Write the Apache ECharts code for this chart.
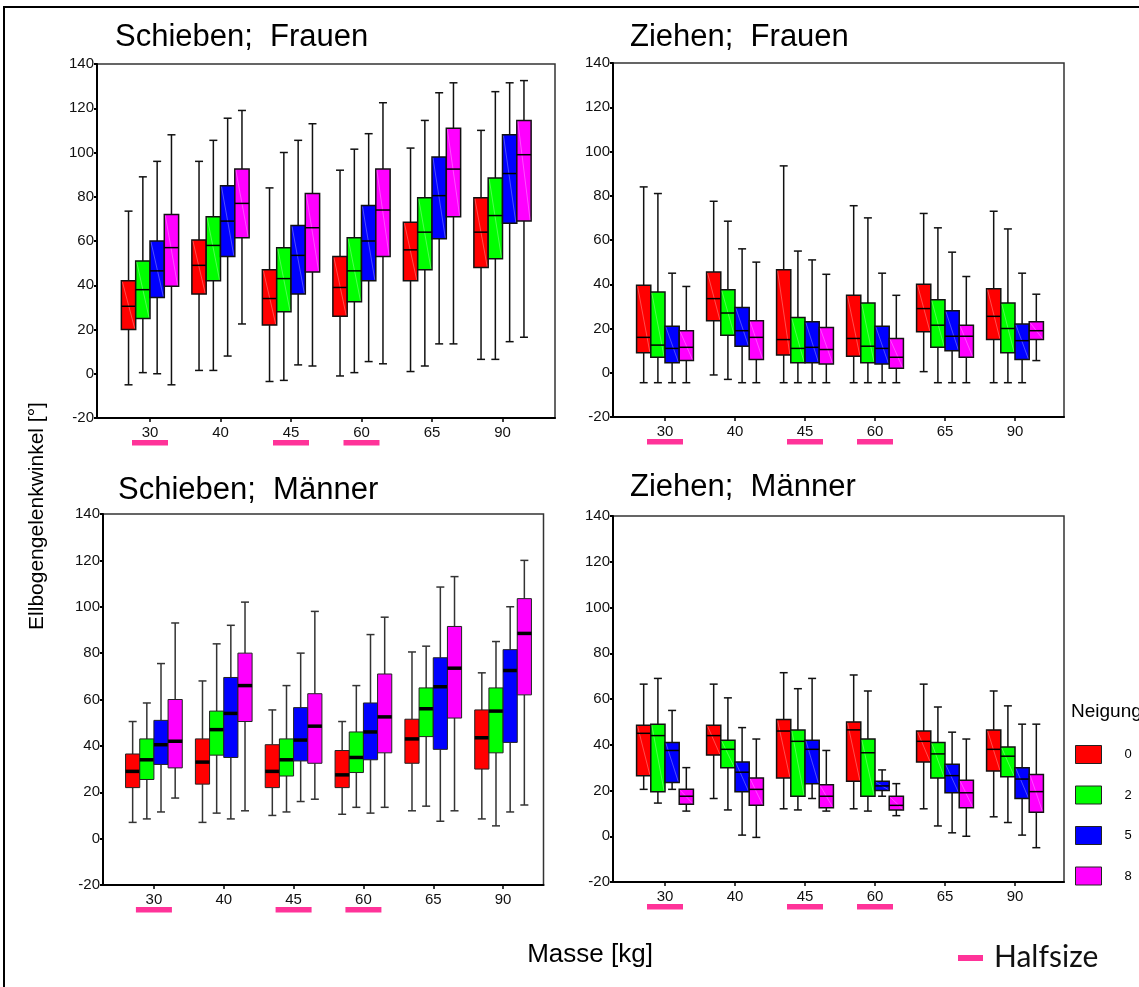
<!DOCTYPE html>
<html>
<head>
<meta charset="utf-8">
<script src="https://cdn.jsdelivr.net/npm/echarts@6/dist/echarts.min.js"></script>
<style>
html,body{margin:0;padding:0;background:#fff;}
#chart{width:1139px;height:987px;}
</style>
</head>
<body>
<div id="chart"></div>
<script>
// ---------- DATA ----------
const categories = ['30', '40', '45', '60', '65', '90'];
const levels = ['0', '2', '5', '8'];           // Neigung
const halfsize = ['30', '45', '60'];           // categories marked "Halfsize"
const yTicks = { min: -20, max: 140, step: 20 };

// each entry: [min, Q1, median, Q3, max] per category
// Schieben; Frauen
const schiebenFrauen0 = [[-5,20,30.5,42,73.5],[1.5,36,49,60.5,96],[-3.5,22,34,47,84],[-1,26,39,53,92],[1,42,56,68.5,102],[6.5,48,64,79.5,110]];
const schiebenFrauen2 = [[0.5,25,38,51,89],[1.5,42,58,71,105.5],[-3,28,43,57,100],[0.5,32.5,46.5,61.5,101.5],[3.5,47,64,79.5,114.5],[6.5,52,71.5,88.5,127.5]];
const schiebenFrauen5 = [[0,34.5,46.5,60,96],[8,53,69,85,115.5],[4,36,53.5,67,105.5],[5.5,42,60,76,108.5],[13.5,61,80.5,98,127],[14.5,68,90.5,108,131.5]];
const schiebenFrauen8 = [[-5,39.5,57,72,108],[22.5,61.5,77,92.5,119],[3.5,46,66,81.5,113],[4.5,53,74,92.5,122.5],[13.5,71,92.5,111,131.5],[16.5,69,99,114.5,132.5]];
// Ziehen; Frauen
const ziehenFrauen0 = [[-4.5,9,16,39.5,84],[-1,23.5,33.5,45.5,77.5],[-4.5,8,15,46.5,93.5],[-4.5,7.5,15.5,35,75.5],[0.5,18.5,29,40,72],[-4.5,15,25.5,38,73]];
const ziehenFrauen2 = [[-4.5,7,12.5,36.5,81],[-3,17,27,37.5,68.5],[-4.5,4.5,11,25,55],[-4.5,4.5,12,31.5,70],[-4.5,11.5,21.5,33,65.5],[-4.5,9,20,31.5,65]];
const ziehenFrauen5 = [[-4.5,4.5,11,21,45],[-4.5,12,19,29.5,56],[-4.5,4.5,11.5,23,51],[-4.5,4,11,21,45],[-4.5,10,16.5,28,54.5],[-4.5,6,14.5,22,45]];
const ziehenFrauen8 = [[-4.5,5.5,11.5,19,39],[-4.5,6,16,23.5,50],[-4.5,4,10.5,20.5,44.5],[-4.5,2,7,15.5,35],[-4.5,7,16.5,21.5,43.5],[5.5,15,19,23,35.5]];
// Schieben; Männer
const schiebenMaenner0 = [[7,22,29,36.5,50.5],[7,23.5,33,43,68],[10,22,29,40.5,55.5],[10.5,22,27.5,38,50.5],[12,32.5,43,51.5,80.5],[8.5,30,43.5,55.5,71.5]];
const schiebenMaenner2 = [[8.5,25.5,34,43,58.5],[11,36,47,55,84],[11.5,27,34,43,66],[13.5,28.5,35,46,66],[14,44,56,65,83],[5.5,37,55,65,85]];
const schiebenMaenner5 = [[11.5,32,40.5,51,75.5],[8.5,35,54,69.5,92],[16,33.5,42.5,56.5,80],[11,34,46,58.5,88],[7.5,38.5,65.5,78,108.5],[11.5,41.5,72.5,81.5,100]];
const schiebenMaenner8 = [[17.5,30.5,42,60,93],[12,50.5,66,80,102],[17,32.5,48.5,62.5,98],[13.5,37,52.5,71,95.5],[12,52,73.5,91.5,113],[14.5,62,88.5,103.5,120]];
// Ziehen; Männer
const ziehenMaenner0 = [[20.5,26.5,45,48.5,66.5],[16.5,35.5,44,48.5,66.5],[12,25.5,46,51,71.5],[12,24,46.5,50,70.5],[12,32.5,41.5,46,66.5],[8.5,28.5,38,46.5,63.5]];
const ziehenMaenner2 = [[14.5,19.5,44,49,69],[11.5,30,38,42,60.5],[11.5,17.5,41.5,46.5,64.5],[11,17.5,36.5,42.5,63.5],[4.5,25.5,36,41,56.5],[6,26,35,39,57]];
const ziehenMaenner5 = [[20.5,23.5,37.5,41,55],[0.5,19.5,28,32.5,47.5],[16.5,23,38,42,69],[17.5,20,22,24,29],[1.5,19,26.5,31.5,45.5],[0.5,16.5,25,30,49]];
const ziehenMaenner8 = [[11,14,17.5,20.5,30],[-0.5,13.5,20.5,25.5,42.5],[11,12.5,17.5,22.5,37.5],[9,11.5,13.5,17.5,23],[0,12.5,19,24.5,42.5],[-5,10.5,19.5,27,49]];

// ---------- LAYOUT / STYLE ----------
const levelColors = ['#ff0000', '#00ff00', '#0000ff', '#ff00ff'];
const panels = [
  { title: 'Schieben;  Frauen', tx: 115, ty: 37, data: [schiebenFrauen0, schiebenFrauen2, schiebenFrauen5, schiebenFrauen8],
    frame: { left: 97, top: 64, width: 458, height: 354 }, inner: { left: 114.75, width: 423 }, thick: false },
  { title: 'Ziehen;  Frauen', tx: 630, ty: 37, data: [ziehenFrauen0, ziehenFrauen2, ziehenFrauen5, ziehenFrauen8],
    frame: { left: 613, top: 63, width: 451, height: 354 }, inner: { left: 630, width: 420 }, thick: false },
  { title: 'Schieben;  Männer', tx: 118, ty: 490, data: [schiebenMaenner0, schiebenMaenner2, schiebenMaenner5, schiebenMaenner8],
    frame: { left: 103, top: 514, width: 440.5, height: 371 }, inner: { left: 119, width: 419 }, thick: true },
  { title: 'Ziehen;  Männer', tx: 630, ty: 487, data: [ziehenMaenner0, ziehenMaenner2, ziehenMaenner5, ziehenMaenner8],
    frame: { left: 613, top: 516, width: 451, height: 366 }, inner: { left: 630, width: 420 }, thick: false }
];
const FONT = 'Liberation Sans, Arial, sans-serif';

function boxRenderer(level, thick) {
  return function (params, api) {
    const cat = api.value(0);
    const v = [api.value(1), api.value(2), api.value(3), api.value(4), api.value(5)];
    const band = api.size([1, 0])[0];
    const bw = band * 0.203;
    const c = api.coord([cat, 0])[0];
    const x0 = c + (level - 2) * bw;
    const xc = x0 + bw / 2;
    const y = v.map(function (val) { return api.coord([cat, val])[1]; });
    const cap = 4;
    const wStyle = { stroke: thick ? '#333' : '#111', lineWidth: 1.5 };
    const children = [
      { type: 'line', shape: { x1: xc, y1: y[4], x2: xc, y2: y[3] }, style: wStyle },
      { type: 'line', shape: { x1: xc, y1: y[1], x2: xc, y2: y[0] }, style: wStyle },
      { type: 'line', shape: { x1: xc - cap, y1: y[4], x2: xc + cap, y2: y[4] }, style: wStyle },
      { type: 'line', shape: { x1: xc - cap, y1: y[0], x2: xc + cap, y2: y[0] }, style: wStyle },
      { type: 'rect', shape: { x: x0, y: y[3], width: bw, height: y[1] - y[3] },
        style: { fill: levelColors[level], stroke: thick ? '#222' : '#111', lineWidth: thick ? 1 : 1.5 } }
    ];
    if (!thick) {
      children.push({ type: 'line', shape: { x1: x0 + 1, y1: y[3] + 1, x2: x0 + bw - 1, y2: y[1] - 1 },
        style: { stroke: 'rgba(255,255,255,0.3)', lineWidth: 1 } });
    }
    children.push({ type: 'line', shape: { x1: x0, y1: y[2], x2: x0 + bw, y2: y[2] },
      style: { stroke: '#000', lineWidth: thick ? 3.5 : 1.5 } });
    return { type: 'group', children: children };
  };
}

function halfsizeRenderer(params, api) {
  const cat = api.value(0);
  const c = api.coord([cat, yTicks.min]);
  return { type: 'rect', shape: { x: c[0] - 18, y: c[1] + 22, width: 36, height: 5.5 },
    style: { fill: '#ff3399' } };
}

const grid = [], xAxis = [], yAxis = [], series = [], graphic = [];
panels.forEach(function (p, pi) {
  const f = p.frame;
  grid.push({ left: f.left, top: f.top, width: f.width, height: f.height, show: true,
    borderColor: '#333', borderWidth: 1.5, backgroundColor: 'transparent' });
  grid.push({ left: p.inner.left, top: f.top, width: p.inner.width, height: f.height });
  const fg = pi * 2, ig = pi * 2 + 1;
  xAxis.push({ gridIndex: fg, type: 'value', min: 0, max: 1,
    axisLine: { show: true, onZero: false, lineStyle: { color: '#000', width: 2 } },
    axisTick: { show: false }, axisLabel: { show: false }, splitLine: { show: false } });
  yAxis.push({ gridIndex: fg, type: 'value', min: yTicks.min, max: yTicks.max, interval: yTicks.step,
    axisLine: { show: true, onZero: false, lineStyle: { color: '#000', width: 2 } },
    axisTick: { show: true, length: 3, lineStyle: { color: '#000', width: 2 } },
    axisLabel: { color: '#111', fontSize: 15, fontFamily: FONT, margin: 3 },
    splitLine: { show: false } });
  xAxis.push({ gridIndex: ig, type: 'category', data: categories, boundaryGap: true,
    axisLine: { show: false, onZero: false }, axisTick: { show: true, alignWithLabel: true, length: 4, lineStyle: { color: '#000', width: 1.5 } },
    axisLabel: { color: '#111', fontSize: 15, fontFamily: FONT, margin: 7 }, splitLine: { show: false } });
  yAxis.push({ gridIndex: ig, type: 'value', min: yTicks.min, max: yTicks.max, show: false, splitLine: { show: false } });

  p.data.forEach(function (arr, li) {
    series.push({
      type: 'custom', name: levels[li], xAxisIndex: ig, yAxisIndex: ig,
      itemStyle: { color: levelColors[li] },
      renderItem: boxRenderer(li, p.thick),
      encode: { x: 0, y: [1, 2, 3, 4, 5] },
      data: arr.map(function (d, ci) { return [ci].concat(d); }),
      z: 3
    });
  });
  series.push({
    type: 'custom', name: 'Halfsize', xAxisIndex: ig, yAxisIndex: ig, clip: false,
    renderItem: halfsizeRenderer, encode: { x: 0 },
    data: halfsize.map(function (h) { return [categories.indexOf(h)]; }),
    z: 4, silent: true
  });
  graphic.push({ type: 'text', left: p.tx, top: p.ty - 15,
    style: { text: p.title, font: '31px ' + FONT, fill: '#000' } });
});

graphic.push({ type: 'rect', shape: { x: 4, y: 7, width: 1145, height: 995 },
  style: { fill: 'none', stroke: '#000', lineWidth: 2 }, z: 10 });
graphic.push({ type: 'text', x: 37, y: 516, rotation: Math.PI / 2,
  style: { text: 'Ellbogengelenkwinkel [°]', font: '21px ' + FONT, fill: '#000', align: 'center', verticalAlign: 'middle' } });
graphic.push({ type: 'text', x: 590, y: 955,
  style: { text: 'Masse [kg]', font: '26px ' + FONT, fill: '#000', align: 'center', verticalAlign: 'middle' } });
graphic.push({ type: 'rect', shape: { x: 958, y: 955, width: 25, height: 6 }, style: { fill: '#ff3399' } });
graphic.push({ type: 'text', x: 994, y: 957,
  style: { text: 'Halfsize', font: '30px Lato, ' + FONT, fill: '#111', verticalAlign: 'middle' } });
graphic.push({ type: 'text', x: 1071, y: 712,
  style: { text: 'Neigung', font: '19px ' + FONT, fill: '#000', verticalAlign: 'middle' } });

const option = {
  animation: false,
  backgroundColor: '#fff',
  grid: grid, xAxis: xAxis, yAxis: yAxis, series: series, graphic: graphic,
  legend: {
    data: levels, orient: 'vertical', left: 1075, top: 745,
    icon: 'rect', itemWidth: 26, itemHeight: 18, itemGap: 21.5,
    itemStyle: { borderColor: '#222', borderWidth: 1 },
    textStyle: { fontSize: 13, fontFamily: FONT, color: '#000', padding: [0, 0, 0, 18] },
    selectedMode: false, padding: 0
  }
};
const chart = echarts.init(document.getElementById('chart'), null, { renderer: 'canvas' });
chart.setOption(option);
</script>
</body>
</html>
